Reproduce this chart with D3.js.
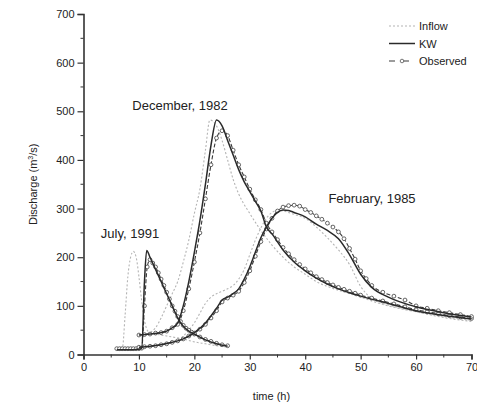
<!DOCTYPE html>
<html><head><meta charset="utf-8">
<script src="https://cdn.jsdelivr.net/npm/d3@7"></script>
<style>body{margin:0;background:#fff}svg{display:block}text{font-family:"Liberation Sans",Arial,sans-serif;fill:#222}</style>
</head><body><svg id="c" width="477" height="406"></svg>
<script>
// ---- data ----
const julyInflowT = [6,7,7.5,8,8.5,9,9.5,10,10.5,11,11.5,12,13,14,15,16,18,20,22,24,26];
const julyInflowQ = [12,12,80,160,200,212,200,160,110,70,50,45,42,40,38,36,32,26,22,18,15];
const julyKWT = [6,7,8,9,10,10.5,11,11.4,12,13,14,15,16,17,18,19,20,22,24,26];
const julyKWQ = [10,10,10,10,11,12,150,214,200,175,150,125,100,75,58,48,42,30,22,17];
const julyObsT = [6,6.5,7,7.5,8,8.5,9,9.5,10,10.5,11,11.5,12,12.5,13,13.5,14,14.5,15,15.5,16,16.5,17,17.5,18,18.5,19,19.5,20,21,22,23,24,25,26];
const julyObsQ = [12,12,12,12,12,12,12,12,12,13,100,180,195,188,180,168,155,142,128,114,100,89,78,68,60,54,50,46,42,36,31,27,23,20,18];

const decInflowT = [10,11,12,13,14,15,16,17,18,19,20,21,22,22.8,24,25,26,27,28,30,32,34,36,38,40,42,44,46,48,50,52,55,60,65,70];
const decInflowQ = [40,42,45,55,75,100,125,150,190,235,290,340,420,482,470,440,400,360,330,290,255,225,200,180,165,150,140,132,125,118,110,100,88,78,70];
const decKWT = [10,12,14,15,16,17,18,19,20,21,22,23,24,25,26,27,28,29,30,31,32,33,34,36,38,40,42,44,46,48,50,55,60,65,70];
const decKWQ = [40,42,45,48,55,65,100,150,210,275,350,430,482,470,440,410,380,355,335,315,295,262,248,215,190,172,157,145,135,127,120,105,90,80,73];
const decObsT = [10,11,12,13,14,15,16,17,18,19,20,21,22,23,24,25,26,27,28,29,30,31,32,33,34,35,36,37,38,39,40,41,42,43,44,45,46,47,48,49,50,52,54,56,58,60,62,64,66,68,70];
const decObsQ = [40,41,42,44,45,48,55,62,90,135,190,250,320,390,445,460,450,420,390,365,340,318,298,270,252,236,220,207,195,185,176,168,160,154,148,143,138,134,130,126,122,116,110,104,98,92,88,84,80,77,74];

const febInflowT = [10,12,14,16,18,19,20,21,22,23,24,25,26,27,28,29,30,31,32,33,34,35,36,38,40,42,44,46,48,50,52,55,60,65,70];
const febInflowQ = [14,16,20,26,38,50,65,85,105,118,125,130,135,142,155,175,205,235,260,280,292,296,295,288,280,262,240,215,185,140,115,102,88,76,68];
const febKWT = [10,12,14,16,18,20,22,24,25,26,27,28,29,30,31,32,33,34,35,36,37,38,40,42,44,46,48,50,52,55,60,65,70];
const febKWQ = [15,17,20,25,32,45,65,95,112,118,125,135,155,180,210,240,262,280,292,297,296,292,283,268,255,238,205,165,138,118,98,86,77];
const febObsT = [10,11,12,13,14,15,16,17,18,19,20,21,22,23,24,25,26,27,28,29,30,31,32,33,34,35,36,37,38,39,40,41,42,43,44,45,46,47,48,49,50,51,52,54,56,58,60,62,64,66,68,70];
const febObsQ = [15,16,17,18,20,22,25,28,32,38,44,52,62,75,90,108,116,122,130,148,172,202,232,258,280,295,303,306,307,305,298,292,285,278,270,262,252,238,218,196,172,156,142,128,120,112,100,95,90,86,82,78];

const xTicks = [0,10,20,30,40,50,60,70];
const yTicks = [0,100,200,300,400,500,600,700];
const legendLabels = ["Inflow","KW","Observed"];

// ---- chart ----
const svg = d3.select("#c");
const x = d3.scaleLinear().domain([0,70]).range([83.5,471.5]);
const y = d3.scaleLinear().domain([0,700]).range([354.5,14]);

const styles = {
  inflow: {stroke:"#b4b4b4", width:1.1, dash:"2,2"},
  kw: {stroke:"#2a2a2a", width:1.5, dash:null},
  obs: {stroke:"#3a3a3a", width:1.1, dash:"4,2"}
};
const line = d3.line().x(d=>x(d[0])).y(d=>y(d[1])).curve(d3.curveMonotoneX);
const zip = (t,q)=>t.map((v,i)=>[v,q[i]]);

function drawSeries(t,q,s,markers){
  const data = zip(t,q);
  svg.append("path").datum(data).attr("d",line).attr("fill","none")
    .attr("stroke",s.stroke).attr("stroke-width",s.width)
    .attr("stroke-dasharray",s.dash);
  if(markers){
    svg.append("g").selectAll("circle").data(data).join("circle")
      .attr("cx",d=>x(d[0])).attr("cy",d=>y(d[1])).attr("r",1.9)
      .attr("fill","#fff").attr("stroke","#555").attr("stroke-width",0.9);
  }
}
drawSeries(julyInflowT,julyInflowQ,styles.inflow,false);
drawSeries(decInflowT,decInflowQ,styles.inflow,false);
drawSeries(febInflowT,febInflowQ,styles.inflow,false);
drawSeries(julyObsT,julyObsQ,styles.obs,true);
drawSeries(decObsT,decObsQ,styles.obs,true);
drawSeries(febObsT,febObsQ,styles.obs,true);
drawSeries(julyKWT,julyKWQ,styles.kw,false);
drawSeries(decKWT,decKWQ,styles.kw,false);
drawSeries(febKWT,febKWQ,styles.kw,false);

// axes
const xAxis = d3.axisBottom(x).tickValues(xTicks).tickSize(5).tickPadding(4).tickFormat(d3.format("d"));
const yAxis = d3.axisLeft(y).tickValues(yTicks).tickSize(6).tickPadding(3).tickFormat(d3.format("d"));
const gx = svg.append("g").attr("transform",`translate(0,${y(0)})`).call(xAxis);
const gy = svg.append("g").attr("transform",`translate(${x(0)},0)`).call(yAxis);
const xMinor = d3.range(5,70,10), yMinor = d3.range(50,700,100);
svg.append("g").selectAll("line").data(xMinor).join("line")
  .attr("x1",d=>x(d)).attr("x2",d=>x(d)).attr("y1",y(0)).attr("y2",y(0)+3).attr("stroke","#333");
svg.append("g").selectAll("line").data(yMinor).join("line")
  .attr("y1",d=>y(d)).attr("y2",d=>y(d)).attr("x1",x(0)).attr("x2",x(0)-3).attr("stroke","#333");
[gx,gy].forEach(g=>{
  g.select(".domain").attr("stroke","#333").attr("stroke-width",1.6);
  g.selectAll(".tick line").attr("stroke","#333").attr("stroke-width",1.2);
  g.selectAll(".tick text").attr("font-size",11).attr("fill","#333")
   .style("font-family","'Liberation Sans',Arial,sans-serif");
});

// labels
svg.append("text").attr("x",x(35)-6).attr("y",400).attr("font-size",11).attr("text-anchor","middle").text("time (h)");
const yl = svg.append("text").attr("transform",`translate(37,${y(350)}) rotate(-90)`).attr("font-size",11).attr("text-anchor","middle");
yl.append("tspan").text("Discharge (m");
yl.append("tspan").attr("font-size",7).attr("dy",-4).text("3");
yl.append("tspan").attr("dy",4).text("/s)");

svg.append("text").attr("x",180).attr("y",110).attr("font-size",13).attr("text-anchor","middle").text("December, 1982");
svg.append("text").attr("x",130).attr("y",238).attr("font-size",13).attr("text-anchor","middle").text("July, 1991");
svg.append("text").attr("x",372).attr("y",203).attr("font-size",13).attr("text-anchor","middle").text("February, 1985");

// legend
const lg = svg.append("g");
const lstyles = [styles.inflow, styles.kw, styles.obs];
legendLabels.forEach((lab,i)=>{
  const yy = 26 + i*17.5;
  lg.append("line").attr("x1",389).attr("x2",415).attr("y1",yy).attr("y2",yy)
    .attr("stroke",lstyles[i].stroke).attr("stroke-width",lstyles[i].width)
    .attr("stroke-dasharray", i===2 ? "6,8" : lstyles[i].dash);
  if(i===2) lg.append("circle").attr("cx",402).attr("cy",yy).attr("r",1.8).attr("fill","#fff").attr("stroke","#555").attr("stroke-width",0.8);
  lg.append("text").attr("x",419).attr("y",yy+4).attr("font-size",11).text(lab);
});
</script></body></html>
